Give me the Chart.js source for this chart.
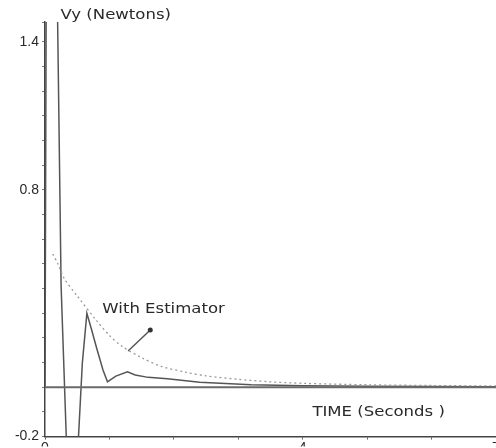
<!DOCTYPE html>
<html>
<head>
<meta charset="utf-8">
<script src="https://cdn.jsdelivr.net/npm/chart.js@4"></script>
<style>
  html, body { margin: 0; padding: 0; background: #fff; overflow: hidden; }
  #wrap { position: relative; width: 500px; height: 448px; }
</style>
</head>
<body>
<div id="wrap"><canvas id="c" width="500" height="448"></canvas></div>
<script>
// ─── Daten ──────────────────────────────────────────────────────────────────

// Vy ohne Schätzer (durchgezogen)
const solidTime = [0, 0.02, 0.19, 0.25, 0.33, 0.36, 0.48, 0.52, 0.58, 0.65, 0.72, 0.8, 0.9, 0.97, 1.1, 1.28, 1.4, 1.6, 1.9, 2.4, 3.2, 4.0, 5.0, 7.0];
const solidVy   = [0, 1.7, 1.6, 0.41, -0.2, -0.4, -0.4, -0.2, 0.1, 0.3, 0.236, 0.16, 0.07, 0.022, 0.045, 0.063, 0.05, 0.04, 0.034, 0.02, 0.01, 0.006, 0.004, 0.002];

// Vy mit Schätzer (gepunktet)
const estTime = [0.12, 0.2, 0.3, 0.5, 0.8, 1.0, 1.2, 1.5, 1.8, 2.2, 2.5, 3.0, 3.5, 4.0, 5.0, 6.0, 7.0];
const estVy   = [0.54, 0.5, 0.44, 0.37, 0.27, 0.21, 0.165, 0.12, 0.085, 0.06, 0.046, 0.032, 0.022, 0.016, 0.01, 0.007, 0.005];

// Nulllinie + Pfeil zur Beschriftung
const zeroTime = [0, 7];
const zeroVy = [0, 0];
const arrowTime = [1.634, 1.29];
const arrowVy = [0.232, 0.147];

const yLabels = [1.4, 0.8, -0.2];
const xLabels = [0, 4, 7];

// Texte (in Datenkoordinaten verankert)
const notes = [
  { text: 'Vy (Newtons)', t: 0.24, v: 1.505 },
  { text: 'With Estimator', t: 0.89, v: 0.317 },
  { text: 'TIME (Seconds )', t: 4.15, v: -0.1 },
];

const FONT = '"DejaVu Sans", "Liberation Sans", Arial, sans-serif';
const TICK_FONT = '"Liberation Sans", Arial, sans-serif';
const pts = (xs, ys) => xs.map((x, i) => ({ x, y: ys[i] }));

// ─── Plugin für Beschriftungen ──────────────────────────────────────────────

const notesPlugin = {
  id: 'notes',
  afterDraw(chart) {
    const { ctx, scales } = chart;
    ctx.save();
    ctx.fillStyle = '#2a2a2a';
    ctx.textBaseline = 'middle';
    ctx.textAlign = 'left';
    ctx.font = `14px ${FONT}`;
    notes.forEach(n => {
      const px = scales.x.getPixelForValue(n.t);
      const py = scales.y.getPixelForValue(n.v);
      // Text im Original leicht breitgezogen
      ctx.save();
      ctx.translate(px, py);
      ctx.scale(1.18, 1);
      ctx.fillText(n.text, 0, 0);
      ctx.restore();
    });
    ctx.restore();
  },
};

const near = (v, list) => list.some(l => Math.abs(v - l) < 1e-6);

// ─── Chart ──────────────────────────────────────────────────────────────────

new Chart(document.getElementById('c'), {
  type: 'scatter',
  data: {
    datasets: [
      {
        data: pts(zeroTime, zeroVy),
        showLine: true, borderColor: '#6a6a6a', borderWidth: 2, pointRadius: 0,
      },
      {
        data: pts(estTime, estVy),
        showLine: true, borderColor: '#9a9a9a', borderWidth: 1.3, borderDash: [2, 3],
        pointRadius: 0, tension: 0.3,
      },
      {
        data: pts(solidTime, solidVy),
        showLine: true, borderColor: '#555', borderWidth: 1.5, pointRadius: 0,
      },
      {
        data: pts(arrowTime, arrowVy),
        showLine: true, borderColor: '#555', borderWidth: 1.5,
        pointRadius: [2.5, 0], pointBackgroundColor: '#333', pointBorderWidth: 0,
      },
    ],
  },
  options: {
    responsive: false,
    animation: false,
    devicePixelRatio: 1,
    layout: { padding: { top: 22, right: 0, left: 0, bottom: 0 } },
    plugins: { legend: { display: false }, tooltip: { enabled: false } },
    scales: {
      x: {
        type: 'linear', min: 0, max: 7,
        afterFit: s => { s.height = 10; },
        border: { color: '#444', width: 1.5 },
        grid: { drawOnChartArea: false, tickLength: 3, color: '#666' },
        ticks: {
          stepSize: 1, padding: 0, color: '#2a2a2a', maxRotation: 0, autoSkip: false,
          font: { size: 14, family: TICK_FONT },
          callback: v => near(v, xLabels) ? String(v) : '',
        },
      },
      y: {
        type: 'linear', min: -0.2, max: 1.48,
        afterFit: s => { s.width = 45; },
        border: { color: '#444', width: 1.5 },
        grid: { drawOnChartArea: false, tickLength: 3, color: '#777' },
        ticks: {
          stepSize: 0.1, padding: 3, color: '#2a2a2a', autoSkip: false,
          font: { size: 14, family: TICK_FONT },
          callback: v => near(v, yLabels) ? (Math.round(v * 10) / 10).toFixed(1) : '',
        },
      },
    },
  },
  plugins: [notesPlugin],
});
</script>
</body>
</html>
